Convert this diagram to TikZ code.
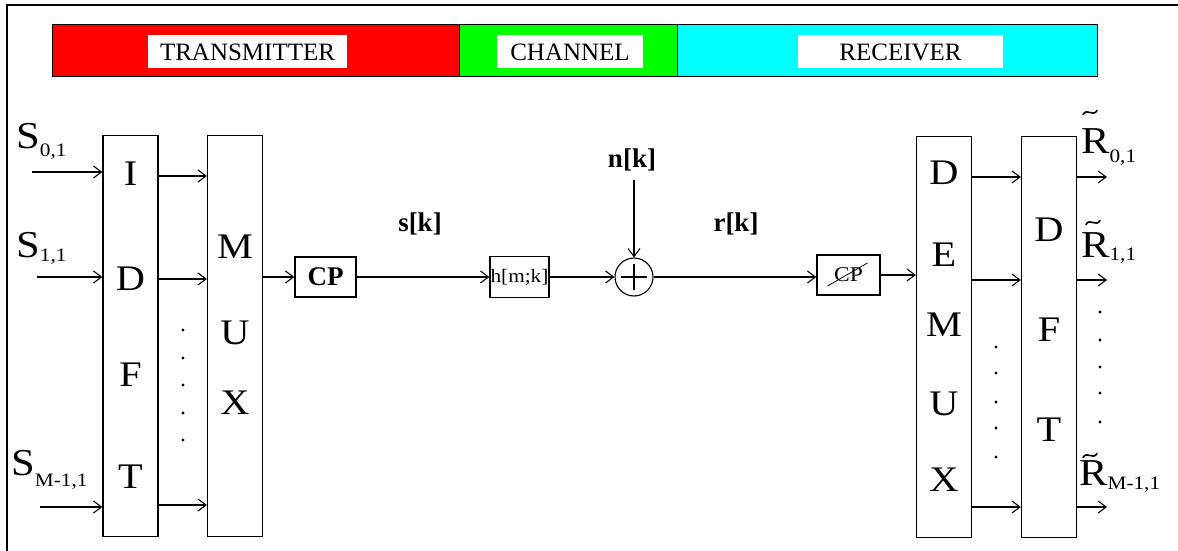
\documentclass[tikz,border=0pt]{standalone}
\usepackage{fontspec}
\setmainfont{Liberation Serif}
\newfontfamily\widefont[FakeStretch=1.12]{Liberation Serif}
\usetikzlibrary{arrows.meta}
\definecolor{txred}{RGB}{255,0,0}
\definecolor{chgreen}{RGB}{0,255,0}
\definecolor{rxcyan}{RGB}{0,255,255}
% smaller, lowered index text after a symbol
\newcommand\dropsub[2]{\raisebox{-#1pt}{\fontsize{19}{19}\selectfont #2}}

\begin{document}
\begin{tikzpicture}[x=1pt,y=-1pt,
  wire/.style={line width=1.1pt},
  arr/.style={wire,-{Straight Barb[length=8pt,width=12pt]}},
  blk/.style={draw,line width=1.3pt,inner sep=0pt},
  tall/.style={blk,minimum width=55pt,minimum height=401pt},
  big/.style={font=\widefont\fontsize{36}{36}\selectfont,inner sep=0pt,text depth=0pt},
  lab/.style={font=\widefont\fontsize{38}{38}\selectfont,inner sep=0pt},
  band/.style={draw,line width=1pt,minimum height=52pt,inner sep=0pt},
  tag/.style={fill=white,inner sep=0pt,minimum height=33pt,font=\fontsize{25}{25}\selectfont},
  sig/.style={font=\bfseries\fontsize{27}{27}\selectfont,inner sep=0pt},
  tildemark/.style={line width=1.6pt,line cap=round},
  dot/.style={circle,fill,inner sep=0pt,minimum size=3.2pt}
]
\useasboundingbox (0,0) rectangle (1178,551);

% frame lines
\draw[line width=2.5pt] (7,551) -- (7,5) -- (1178,5);

% section banner
\node[band,fill=txred,minimum width=407pt] (tx) at (255.5,51) {};
\node[band,fill=chgreen,minimum width=218pt] (ch) at (568,51) {};
\node[band,fill=rxcyan,minimum width=420pt] (rx) at (887,51) {};
\node[tag,minimum width=199pt] (txl) at (247.5,52) {TRANSMITTER};
\node[tag,minimum width=146pt] (chl) at (570,52) {CHANNEL};
\node[tag,minimum width=205pt] (rxl) at (900.5,52) {RECEIVER};

% tall blocks
\node[tall] (idft) at (130.5,336) {};
\node[tall] (mux) at (235,336) {};
\node[tall] (demux) at (944,337) {};
\node[tall] (dft) at (1049,337) {};

% block lettering
\node[big] (i1) at (130.5,174) {I};
\node[big] (i2) at (130.5,279) {D};
\node[big] (i3) at (130.5,375) {F};
\node[big] (i4) at (130.5,477) {T};
\node[big] (m1) at (235,247) {M};
\node[big] (m2) at (235,333) {U};
\node[big] (m3) at (235,403) {X};
\node[big] (e1) at (944,173) {D};
\node[big] (e2) at (944,255) {E};
\node[big] (e3) at (944,325) {M};
\node[big] (e4) at (944,404) {U};
\node[big] (e5) at (944,480) {X};
\node[big] (f1) at (1049,230) {D};
\node[big] (f2) at (1049,330) {F};
\node[big] (f3) at (1049,430) {T};

% small blocks
\node[blk,sig,minimum width=61pt,minimum height=40pt] (cp) at (325.5,277) {CP};
\node[blk,minimum width=59pt,minimum height=41pt,font=\widefont\fontsize{19}{19}\selectfont] (h) at (519.5,277) {h[m;k]};
\node[draw,circle,line width=1.1pt,minimum size=38pt,inner sep=0pt] (add) at (634,277) {};
\draw[wire] ([xshift=-13pt]add.center) -- ([xshift=13pt]add.center);
\draw[wire] ([yshift=-13pt]add.center) -- ([yshift=13pt]add.center);
\node[blk,minimum width=63pt,minimum height=40pt,font=\widefont\fontsize{21}{21}\selectfont] (cps) at (848.5,275) {CP};
\draw[line width=0.8pt] ([shift={(-21,11)}]cps.center) -- ([shift={(19,-12)}]cps.center);

% signal names
\node[sig,anchor=base] (sk) at (420,231) {s[k]};
\node[sig,anchor=base] (nk) at (632,167) {n[k]};
\node[sig,anchor=base] (rk) at (736,231) {r[k]};

% inputs
\node[lab,anchor=base west] (S0) at (16,148) {S\dropsub{8}{0,1}};
\node[lab,anchor=base west] (S1) at (16,257) {S\dropsub{4}{1,1}};
\node[lab,anchor=base west] (S2) at (11,475) {S\dropsub{11}{M-1,1}};
\coordinate (s0) at (32,172);
\coordinate (s1) at (37,277);
\coordinate (s2) at (40,507);
\draw[arr] (s0) -- (s0 -| idft.west);
\draw[arr] (s1) -- (s1 -| idft.west);
\draw[arr] (s2) -- (s2 -| idft.west);

% IDFT to MUX
\coordinate (a0) at (0,176);
\coordinate (a1) at (0,279);
\coordinate (a2) at (0,505);
\draw[arr] (a0 -| idft.east) -- (a0 -| mux.west);
\draw[arr] (a1 -| idft.east) -- (a1 -| mux.west);
\draw[arr] (a2 -| idft.east) -- (a2 -| mux.west);
\foreach \y [count=\i] in {330,358,385,413,440} \node[dot] (da\i) at (183,\y) {};

% main chain
\draw[arr] (mux.east |- cp.west) -- (cp.west);
\draw[arr] (cp.east) -- (h.west);
\draw[arr] (h.east) -- (add.west);
\coordinate (nt) at (634,180);
\draw[arr] (nt) -- (add.north);
\draw[arr] (add.east) -- (add.east -| cps.west);
\draw[arr] (cps.east) -- (cps.east -| demux.west);

% DEMUX to DFT and outputs
\coordinate (b0) at (0,177);
\coordinate (b1) at (0,280);
\coordinate (b2) at (0,507);
\draw[arr] (b0 -| demux.east) -- (b0 -| dft.west);
\draw[arr] (b1 -| demux.east) -- (b1 -| dft.west);
\draw[arr] (b2 -| demux.east) -- (b2 -| dft.west);
\coordinate (o0) at (1107,177);
\coordinate (o1) at (1107,280);
\coordinate (o2) at (1107,507);
\draw[arr] (o0 -| dft.east) -- (o0);
\draw[arr] (o1 -| dft.east) -- (o1);
\draw[arr] (o2 -| dft.east) -- (o2);
\foreach \y [count=\i] in {347,373,402,428,457} \node[dot] (db\i) at (996,\y) {};
\foreach \y [count=\i] in {312,340,367,393,422} \node[dot] (dc\i) at (1100,\y) {};

% outputs, each R carrying a tilde mark above it
\node[lab,anchor=base west] (R0) at (1081,153) {R\dropsub{9}{0,1}};
\node[lab,anchor=base west] (R1) at (1081,257) {R\dropsub{3}{1,1}};
\node[lab,anchor=base west] (R2) at (1079,485) {R\dropsub{4}{M-1,1}};
\coordinate (w0) at ([shift={(9,-40.5)}]R0.base west);
\coordinate (w1) at ([shift={(12,-34.5)}]R1.base west);
\coordinate (w2) at ([shift={(11,-29.5)}]R2.base west);
\foreach \w in {w0,w1,w2}
  \draw[tildemark] ([shift={(-7,2)}]\w) .. controls ([shift={(-3,-5)}]\w) and ([shift={(3,5)}]\w) .. ([shift={(7,-2)}]\w);
\end{tikzpicture}
\end{document}
